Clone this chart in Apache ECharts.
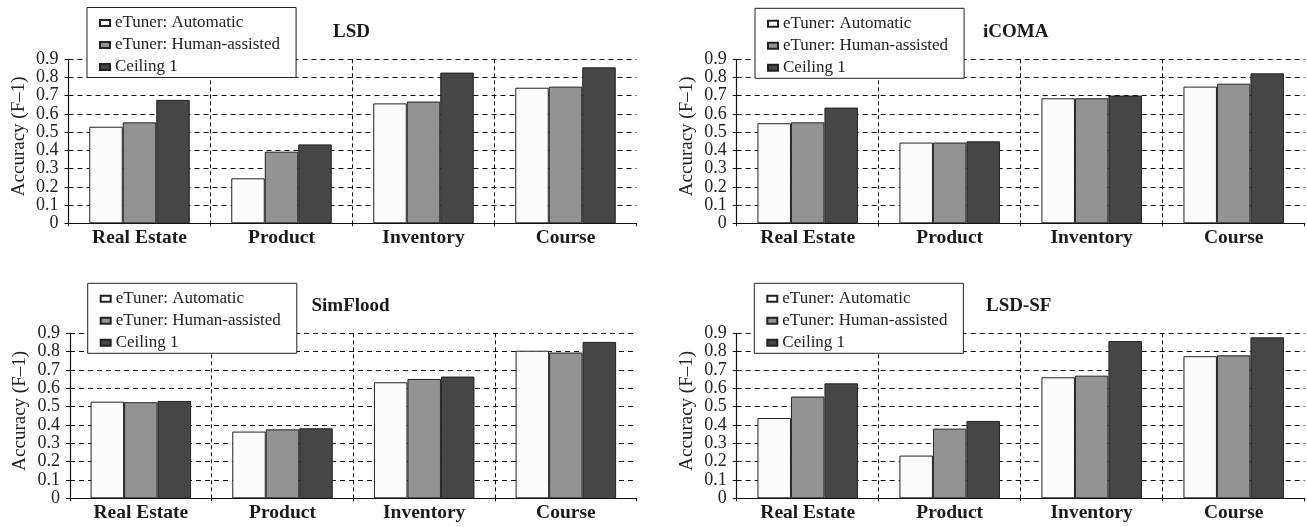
<!DOCTYPE html>
<html>
<head>
<meta charset="utf-8">
<title>eTuner accuracy</title>
<script src="https://cdn.jsdelivr.net/npm/echarts@6/dist/echarts.min.js"></script>
<style>
  html, body { margin: 0; padding: 0; background: #fff; }
  #chart { width: 1307px; height: 527px; }
</style>
</head>
<body>
<div id="chart"></div>
<script>
// Categories and series names
const categories = ['Real Estate', 'Product', 'Inventory', 'Course'];
const seriesNames = ['eTuner: Automatic', 'eTuner: Human-assisted', 'Ceiling 1'];
const panelTitles = ['LSD', 'iCOMA', 'SimFlood', 'LSD-SF'];

// Accuracy (F-1) per matcher
const lsdAuto = [0.530, 0.247, 0.658, 0.744];
const lsdHuman = [0.554, 0.393, 0.668, 0.750];
const lsdCeiling = [0.677, 0.433, 0.827, 0.856];

const icomaAuto = [0.549, 0.443, 0.686, 0.750];
const icomaHuman = [0.554, 0.443, 0.686, 0.766];
const icomaCeiling = [0.635, 0.450, 0.701, 0.823];

const simfloodAuto = [0.527, 0.364, 0.633, 0.805];
const simfloodHuman = [0.524, 0.376, 0.651, 0.795];
const simfloodCeiling = [0.531, 0.382, 0.664, 0.853];

const lsdsfAuto = [0.438, 0.233, 0.660, 0.775];
const lsdsfHuman = [0.555, 0.380, 0.669, 0.780];
const lsdsfCeiling = [0.627, 0.422, 0.858, 0.878];

const panelData = [
  [lsdAuto, lsdHuman, lsdCeiling],
  [icomaAuto, icomaHuman, icomaCeiling],
  [simfloodAuto, simfloodHuman, simfloodCeiling],
  [lsdsfAuto, lsdsfHuman, lsdsfCeiling]
];

// Layout of the four panels (pixels)
const layout = [
  { grid: { left: 68.5, top: 59.3, width: 568, height: 164 }, title: { left: 333, top: 22.5 }, legend: { left: 87, top: 7.5 } },
  { grid: { left: 736.7, top: 59.3, width: 568, height: 164 }, title: { left: 983, top: 22.5 }, legend: { left: 755, top: 8.3 } },
  { grid: { left: 70, top: 333.3, width: 566.7, height: 165 }, title: { left: 311.5, top: 297 }, legend: { left: 87.7, top: 283.3 } },
  { grid: { left: 736.7, top: 333.3, width: 568, height: 165 }, title: { left: 986, top: 297 }, legend: { left: 754.3, top: 283.3 } }
];

const fills = ['#fcfcfc', '#939393', '#464646'];
const serif = '"Liberation Serif", "DejaVu Serif", serif';
const ink = '#1a1a1a';

const option = {
  backgroundColor: '#ffffff',
  animation: false,
  title: [], legend: [], grid: [], xAxis: [], yAxis: [], series: []
};

layout.forEach((p, i) => {
  option.grid.push(Object.assign({ containLabel: false }, p.grid));

  option.title.push({
    text: panelTitles[i],
    left: p.title.left,
    top: p.title.top,
    padding: 0,
    textStyle: { fontFamily: serif, fontWeight: 'bold', fontSize: 19, color: ink }
  });

  option.legend.push({
    data: seriesNames,
    orient: 'vertical',
    left: p.legend.left,
    top: p.legend.top,
    padding: [7, 16, 2, 12],
    itemGap: 5,
    icon: 'rect',
    itemWidth: 10,
    itemHeight: 6,
    itemTextGap: 8,
    backgroundColor: '#ffffff',
    borderColor: '#222',
    borderWidth: 1,
    borderRadius: 0,
    selectedMode: false,
    z: 10,
    textStyle: { fontFamily: serif, fontSize: 17, color: '#222' }
  });

  option.xAxis.push({
    type: 'category',
    gridIndex: i,
    data: categories,
    boundaryGap: true,
    axisLine: { show: true, lineStyle: { color: '#111', width: 1.2 } },
    axisTick: { show: true, length: 3, lineStyle: { color: '#111' } },
    axisLabel: { margin: 5, fontFamily: serif, fontWeight: 'bold', fontSize: 19.5, color: ink },
    splitLine: {
      show: true, showMinLine: false, showMaxLine: false,
      lineStyle: { color: '#111', width: 1, type: [4, 3] }
    }
  });

  option.yAxis.push({
    type: 'value',
    gridIndex: i,
    min: 0,
    max: 0.9,
    interval: 0.1,
    name: 'Accuracy (F–1)',
    nameLocation: 'middle',
    nameRotate: 90,
    nameGap: 40,
    nameTextStyle: { fontFamily: serif, fontSize: 19, color: '#222', padding: [0, 0, 0, 10] },
    axisLine: { show: true, lineStyle: { color: '#111', width: 1.2 } },
    axisTick: { show: true, length: 4, lineStyle: { color: '#111' } },
    axisLabel: {
      margin: 10, fontFamily: serif, fontSize: 18, color: '#222',
      formatter: v => (v === 0 ? '0' : v.toFixed(1))
    },
    splitLine: {
      show: true, showMinLine: false,
      lineStyle: { color: '#111', width: 1, type: [5, 4] }
    }
  });

  panelData[i].forEach((values, s) => {
    option.series.push({
      type: 'bar',
      name: seriesNames[s],
      xAxisIndex: i,
      yAxisIndex: i,
      data: values,
      barWidth: 33.5,
      barGap: '0%',
      itemStyle: { color: fills[s], borderColor: '#222', borderWidth: 1 }
    });
  });
});

const chart = echarts.init(document.getElementById('chart'), null, { renderer: 'canvas' });
chart.setOption(option);
</script>
</body>
</html>
